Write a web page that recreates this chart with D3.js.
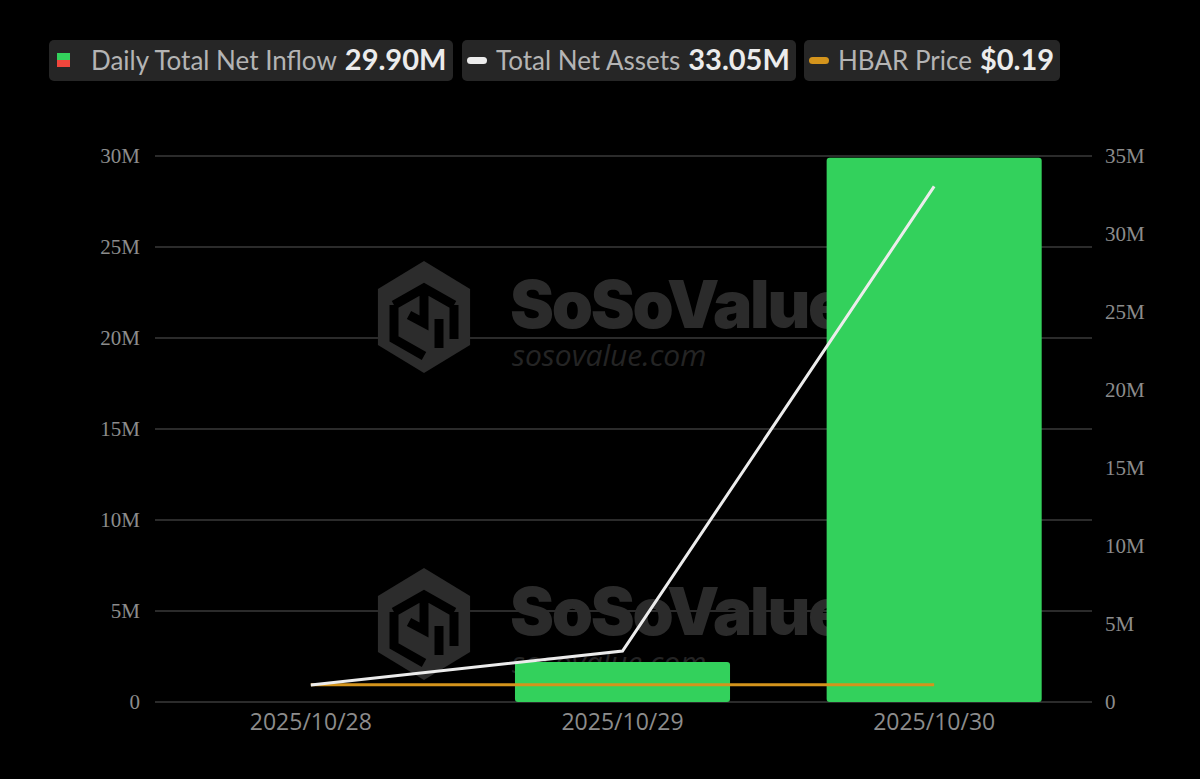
<!DOCTYPE html>
<html>
<head>
<meta charset="utf-8">
<style>
body { margin: 0; background: #000; }
svg { display: block; }
.grid line { stroke: #3a3a3a; stroke-width: 1.5; }
.axis text { fill: #8c8c8c; }
</style>
</head>
<body>
<svg width="1200" height="779"></svg>
<script src="https://d3js.org/d3.v7.min.js"></script>
<script>

// data
var dates = ["2025/10/28", "2025/10/29", "2025/10/30"];
var inflow = [0, 2.2e6, 29.9e6];
var netAssets = [1.09e6, 3.27e6, 33.05e6];
var price = [0.19, 0.19, 0.19];
var leftTicks = [0, 5e6, 10e6, 15e6, 20e6, 25e6, 30e6];
var rightTicks = [0, 5e6, 10e6, 15e6, 20e6, 25e6, 30e6, 35e6];
var legendItems = [
  {label: "Daily Total Net Inflow", value: "29.90M"},
  {label: "Total Net Assets", value: "33.05M"},
  {label: "HBAR Price", value: "$0.19"}
];

var svg = d3.select("svg"),
    width = +svg.attr("width"),
    height = +svg.attr("height");

svg.append("rect").attr("width", width).attr("height", height).attr("fill", "#000");

var x = d3.scaleBand().domain(dates).range([155, 1090]).padding(0);
var yL = d3.scaleLinear().domain([0, 30e6]).range([702, 156]);
var yR = d3.scaleLinear().domain([0, 35e6]).range([702, 156]);
var yP = d3.scaleLinear().domain([0, 6]).range([702, 156]);

var fmt = function(d) { return d === 0 ? "0" : (d / 1e6) + "M"; };

// grid
svg.append("g").attr("class", "grid")
  .selectAll("line").data(leftTicks).enter().append("line")
    .attr("x1", 155).attr("x2", 1092)
    .attr("y1", function(d) { return yL(d); })
    .attr("y2", function(d) { return yL(d); });

// watermarks
function watermark(tx, ty) {
  var g = svg.append("g").attr("transform", "translate(" + tx + "," + ty + ")");
  var r = 56;
  var hex = d3.range(6).map(function(i) {
    var a = Math.PI / 3 * i - Math.PI / 2;
    return [r * Math.cos(a) * 0.95, r * Math.sin(a)];
  });
  g.append("path").attr("d", "M" + hex.join("L") + "Z").attr("fill", "#2c2c2c");
  g.append("path")
    .attr("d", "M-30,-12 L0,-29 L30,-12 M-30,-12 L-30,22 L0,39 M0,-29 L0,6 L-15,-2 M30,-12 L30,22 M15,2 L15,31")
    .attr("fill", "none").attr("stroke", "#000").attr("stroke-width", 9).attr("stroke-linejoin", "miter");
  g.append("text").attr("x", 86).attr("y", 11)
    .attr("font-family", "Inter, 'Open Sans', sans-serif").attr("font-weight", 900)
    .attr("font-size", 66).attr("letter-spacing", -2.2).attr("fill", "#2b2b2b").text("SoSoValue");
  g.append("text").attr("x", 88).attr("y", 49)
    .attr("font-family", "'Open Sans', sans-serif").attr("font-style", "italic")
    .attr("font-size", 30).attr("fill", "#242424").text("sosovalue.com");
}
watermark(424, 317);
watermark(424, 624);

// bars
svg.append("g").selectAll("rect").data(inflow).enter().append("rect")
  .attr("x", function(d, i) { return x(dates[i]) + x.bandwidth() * 0.155; })
  .attr("width", x.bandwidth() * 0.69)
  .attr("y", function(d) { return yL(d); })
  .attr("height", function(d) { return yL(0) - yL(d); })
  .attr("rx", 3)
  .attr("fill", "#33d15c")
  .style("display", function(d) { return d > 0 ? null : "none"; });

var cx = function(d, i) { return x(dates[i]) + x.bandwidth() / 2; };

// price line
svg.append("path").datum(price)
  .attr("d", d3.line().x(cx).y(function(d) { return yP(d); }))
  .attr("fill", "none").attr("stroke", "#d4941c").attr("stroke-width", 3);

// net assets line
svg.append("path").datum(netAssets)
  .attr("d", d3.line().x(cx).y(function(d) { return yR(d); }))
  .attr("fill", "none").attr("stroke", "#ececec").attr("stroke-width", 3);

// axes
var axL = svg.append("g").attr("class", "axis")
  .attr("transform", "translate(140,0)")
  .call(d3.axisLeft(yL).tickValues(leftTicks).tickFormat(fmt).tickSize(0).tickPadding(0));
axL.select(".domain").remove();
axL.selectAll("text").attr("font-family", "'Liberation Serif', 'DejaVu Serif', serif").attr("font-size", 21);

var axR = svg.append("g").attr("class", "axis")
  .attr("transform", "translate(1105,0)")
  .call(d3.axisRight(yR).tickValues(rightTicks).tickFormat(fmt).tickSize(0).tickPadding(0));
axR.select(".domain").remove();
axR.selectAll("text").attr("font-family", "'Liberation Serif', 'DejaVu Serif', serif").attr("font-size", 21);

var axB = svg.append("g").attr("class", "axis")
  .attr("transform", "translate(0,714)")
  .call(d3.axisBottom(x).tickSize(0).tickPadding(0));
axB.select(".domain").remove();
axB.selectAll("text").attr("font-family", "'Open Sans', sans-serif").attr("font-size", 23).attr("fill", "#a8a8a8");

// legend
var boxes = [[49, 404], [462, 334], [804, 256]];
legendItems.forEach(function(it, i) {
  var g = svg.append("g").attr("transform", "translate(" + boxes[i][0] + ",40)");
  g.append("rect").attr("width", boxes[i][1]).attr("height", 41).attr("rx", 5).attr("fill", "#262626");
  var tx;
  if (i === 0) {
    g.append("rect").attr("x", 8).attr("y", 13).attr("width", 13).attr("height", 7).attr("fill", "#33d15c");
    g.append("rect").attr("x", 8).attr("y", 20).attr("width", 13).attr("height", 7).attr("fill", "#f0463c");
    tx = 42;
  } else {
    g.append("rect").attr("x", 5).attr("y", 17).attr("width", 20).attr("height", 7).attr("rx", 3.5)
      .attr("fill", i === 1 ? "#ececec" : "#d4941c");
    tx = 34;
  }
  var t = g.append("text").attr("x", tx).attr("y", 30)
    .attr("font-family", "Lato, 'Open Sans', sans-serif");
  t.append("tspan").attr("font-size", 26).attr("fill", "#b4b4b4").text(it.label);
  t.append("tspan").attr("dx", 8).attr("font-size", 29).attr("font-weight", 700).attr("fill", "#ececec").text(it.value);
});

</script>
</body>
</html>
